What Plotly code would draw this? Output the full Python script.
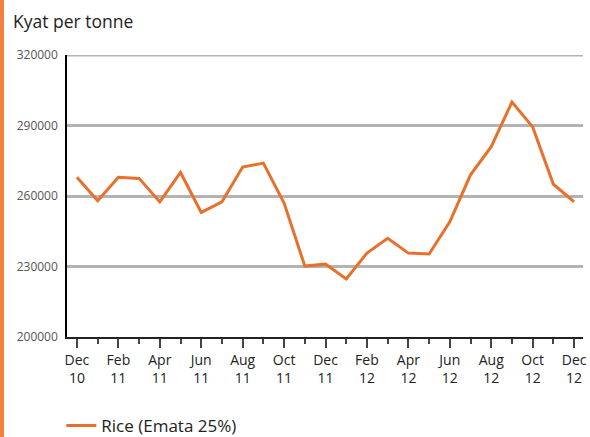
import plotly.graph_objects as go

months = ["Dec 10","Jan 11","Feb 11","Mar 11","Apr 11","May 11","Jun 11","Jul 11","Aug 11","Sep 11","Oct 11","Nov 11",
          "Dec 11","Jan 12","Feb 12","Mar 12","Apr 12","May 12","Jun 12","Jul 12","Aug 12","Sep 12","Oct 12","Nov 12","Dec 12"]
rice = [268000,258000,268000,267500,257500,270000,253000,257500,272300,274000,257000,230200,
        231000,224700,235700,242000,235700,235300,249000,269000,281000,300000,289400,265000,257500]
tick_idx = list(range(0, 25, 2))
tick_text = ["Dec<br>10","Feb<br>11","Apr<br>11","Jun<br>11","Aug<br>11","Oct<br>11","Dec<br>11",
             "Feb<br>12","Apr<br>12","Jun<br>12","Aug<br>12","Oct<br>12","Dec<br>12"]
y_ticks = [200000, 230000, 260000, 290000, 320000]

W, H = 590, 437
L, R, T, B = 67, 7, 55, 100
pw, ph = W - L - R, H - T - B

fig = go.Figure()
fig.add_trace(go.Scatter(x=list(range(len(months))), y=rice, mode="lines",
                         name="Rice (Emata 25%)", line=dict(color="#e8702a", width=3),
                         hovertext=months))

fig.update_layout(
    width=W, height=H, margin=dict(l=L, r=R, t=T, b=B, autoexpand=False),
    plot_bgcolor="white", paper_bgcolor="white",
    font=dict(family="Open Sans, Noto Sans, sans-serif", color="#333"),
    title=dict(text="Kyat per tonne", x=13/W, xref="container", xanchor="left",
               y=1-22/H, yref="container", yanchor="middle",
               font=dict(size=17.5, color="#222")),
    showlegend=True,
    legend=dict(orientation="h", x=-0.011, xanchor="left", y=(T+ph-426)/ph, yanchor="middle",
                font=dict(size=17, color="#222"), bgcolor="rgba(0,0,0,0)"),
    xaxis=dict(range=[-0.48, 24.43], tickmode="array", tickvals=tick_idx, ticktext=tick_text,
               showgrid=False, showline=True, linecolor="#222", linewidth=1.5,
               ticks="outside", ticklen=9, tickcolor="#444", tickwidth=1.5,
               tickfont=dict(size=14, color="#222"),
               minor=dict(ticks="outside", dtick=1, tick0=0, ticklen=5, tickcolor="#444", tickwidth=1.5, showgrid=False),
               zeroline=False, fixedrange=True, automargin=False),
    yaxis=dict(range=[200000, 320000], tickmode="array", tickvals=y_ticks,
               ticktext=[str(v) for v in y_ticks],
               showgrid=True, gridcolor="#b3b3b3", gridwidth=3,
               showline=True, linecolor="black", linewidth=1.5,
               ticks="", ticklabelstandoff=5,
               tickfont=dict(size=12, color="#555"), zeroline=False, fixedrange=True, automargin=False),
    shapes=[
        dict(type="line", xref="paper", yref="y", x0=0, x1=1, y0=y_ticks[-1], y1=y_ticks[-1],
             line=dict(color="#b3b3b3", width=3), layer="below"),
        dict(type="rect", xref="paper", yref="paper",
             x0=-L/pw, x1=(4-L)/pw, y0=-B/ph, y1=(ph+T)/ph,
             fillcolor="#f2803f", line=dict(width=0), layer="above"),
    ],
)

fig.write_html("out.html", config={"displayModeBar": False},
               post_script="document.body.style.margin='0';")
